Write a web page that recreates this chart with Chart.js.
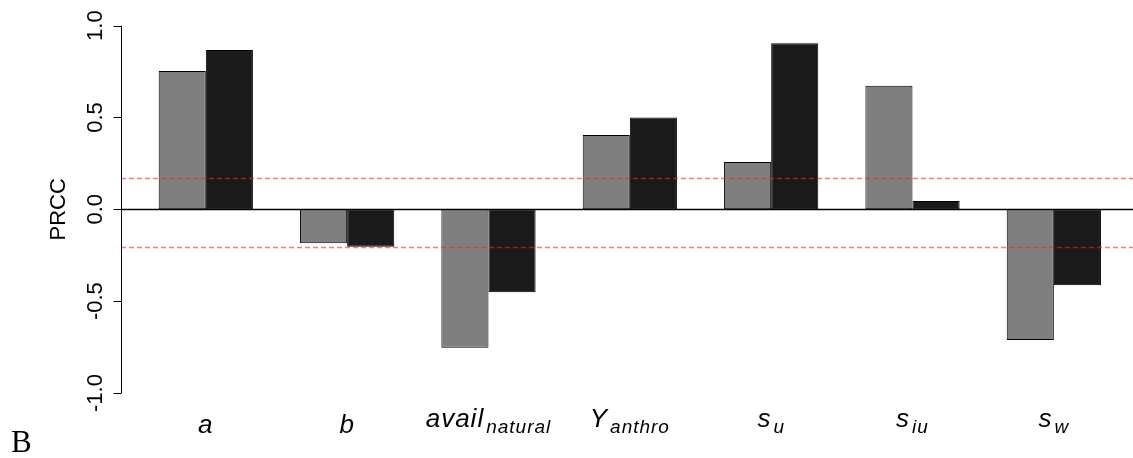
<!DOCTYPE html>
<html>
<head>
<meta charset="utf-8">
<script src="https://cdn.jsdelivr.net/npm/chart.js@4/dist/chart.umd.min.js"></script>
<style>
  html, body { margin: 0; padding: 0; background: #ffffff; overflow: hidden; }
  #wrap { position: relative; width: 1133px; height: 458px; }
</style>
</head>
<body>
<div id="wrap"><canvas id="prcc"></canvas></div>
<script>
// Parameter names: main symbol and its subscript
const categoryBase = ['a', 'b', 'avail', 'Y', 's', 's', 's'];
const categorySub  = ['', '', 'natural', 'anthro', 'u', 'iu', 'w'];

// PRCC values for the two outputs
const seriesGray  = [0.753, -0.185, -0.753, 0.404, 0.257, 0.673, -0.711];
const seriesBlack = [0.867, -0.204, -0.452, 0.500, 0.904, 0.045, -0.414];

// Significance thresholds (dashed lines)
const thresholds = [0.172, -0.204];

// Y axis ticks
const yTickValues = [-1, -0.5, 0, 0.5, 1];
const yTickLabels = ['-1.0', '-0.5', '0.0', '0.5', '1.0'];

const panelLetter = 'B';
const yTitle = 'PRCC';

const toPoints = arr => arr.map((v, i) => ({ x: i, y: v }));

const decorations = {
  id: 'decorations',
  afterDatasetsDraw(chart) {
    const { ctx, chartArea, scales } = chart;
    const y = scales.y;
    ctx.save();

    // zero reference line
    ctx.strokeStyle = '#000000';
    ctx.lineWidth = 1.3;
    ctx.beginPath();
    const y0 = Math.round(y.getPixelForValue(0)) + 0.5;
    ctx.moveTo(chartArea.left, y0);
    ctx.lineTo(chartArea.right, y0);
    ctx.stroke();

    // threshold lines
    ctx.strokeStyle = 'rgba(235, 40, 40, 0.62)';
    ctx.lineWidth = 1.4;
    ctx.setLineDash([5, 3]);
    thresholds.forEach(t => {
      const py = Math.round(y.getPixelForValue(t)) + 0.5;
      ctx.beginPath();
      ctx.moveTo(chartArea.left, py);
      ctx.lineTo(chartArea.right, py);
      ctx.stroke();
    });
    ctx.setLineDash([]);
    ctx.restore();
  },
  afterDraw(chart) {
    const { ctx, chartArea, scales } = chart;
    const x = scales.x, y = scales.y;
    ctx.save();

    // left axis
    const ax = chartArea.left + 0.5;
    ctx.strokeStyle = '#000000';
    ctx.lineWidth = 1;
    ctx.beginPath();
    ctx.moveTo(ax, y.getPixelForValue(yTickValues[0]));
    ctx.lineTo(ax, y.getPixelForValue(yTickValues[yTickValues.length - 1]));
    yTickValues.forEach(v => {
      const py = Math.round(y.getPixelForValue(v)) + 0.5;
      ctx.moveTo(ax, py);
      ctx.lineTo(ax - 8, py);
    });
    ctx.stroke();

    // rotated tick labels
    ctx.fillStyle = '#000000';
    ctx.font = '22px "Liberation Sans", Arial, sans-serif';
    ctx.textAlign = 'center';
    ctx.textBaseline = 'alphabetic';
    yTickValues.forEach((v, i) => {
      const py = y.getPixelForValue(v);
      ctx.save();
      ctx.translate(102, py);
      ctx.rotate(-Math.PI / 2);
      ctx.fillText(yTickLabels[i], 0, 0);
      ctx.restore();
    });

    // axis title
    ctx.save();
    ctx.translate(65, y.getPixelForValue(0));
    ctx.rotate(-Math.PI / 2);
    ctx.fillText(yTitle, 0, 0);
    ctx.restore();

    // category labels with subscripts
    const baseSize = 26, subSize = 19;
    categoryBase.forEach((base, i) => {
      const cx = x.getPixelForValue(i);
      const sub = categorySub[i];
      ctx.textAlign = 'left';
      ctx.letterSpacing = '1px';
      ctx.font = 'italic ' + baseSize + 'px "Liberation Sans", Arial, sans-serif';
      const wb = ctx.measureText(base).width;
      let ws = 0;
      if (sub) {
        ctx.font = 'italic ' + subSize + 'px "Liberation Sans", Arial, sans-serif';
        ws = ctx.measureText(sub).width + 2;
      }
      const left = cx - (wb + ws) / 2;
      ctx.font = 'italic ' + baseSize + 'px "Liberation Sans", Arial, sans-serif';
      ctx.fillText(base, left, sub ? 426.5 : 432.5);
      if (sub) {
        ctx.font = 'italic ' + subSize + 'px "Liberation Sans", Arial, sans-serif';
        ctx.fillText(sub, left + wb + 2, 432.5);
      }
    });
    ctx.letterSpacing = '0px';

    // panel letter
    ctx.textAlign = 'left';
    ctx.font = '31px "Liberation Serif", "Times New Roman", serif';
    ctx.fillText(panelLetter, 11, 451.5);

    ctx.restore();
  }
};

new Chart(document.getElementById('prcc'), {
  type: 'bar',
  data: {
    datasets: [
      {
        data: toPoints(seriesGray),
        backgroundColor: '#7f7f7f',
        borderColor: '#000000',
        borderWidth: 1,
        borderSkipped: false
      },
      {
        data: toPoints(seriesBlack),
        backgroundColor: '#1a1a1a',
        borderColor: '#000000',
        borderWidth: 1,
        borderSkipped: false
      }
    ]
  },
  options: {
    responsive: true,
    maintainAspectRatio: false,
    animation: false,
    devicePixelRatio: 1,
    layout: { padding: { left: 121, right: 0, top: 25.6, bottom: 65 } },
    datasets: { bar: { categoryPercentage: 2 / 3, barPercentage: 1 } },
    plugins: { legend: { display: false }, tooltip: { enabled: false } },
    scales: {
      x: {
        type: 'linear', min: -0.6, max: 6.56, offset: false, display: false,
        // one tick per parameter so the bar ruler spans a whole group
        afterBuildTicks: s => { s.ticks = categoryBase.map((_, i) => ({ value: i })); }
      },
      y: { type: 'linear', min: -1, max: 1, display: false }
    }
  },
  plugins: [decorations]
});
</script>
</body>
</html>
